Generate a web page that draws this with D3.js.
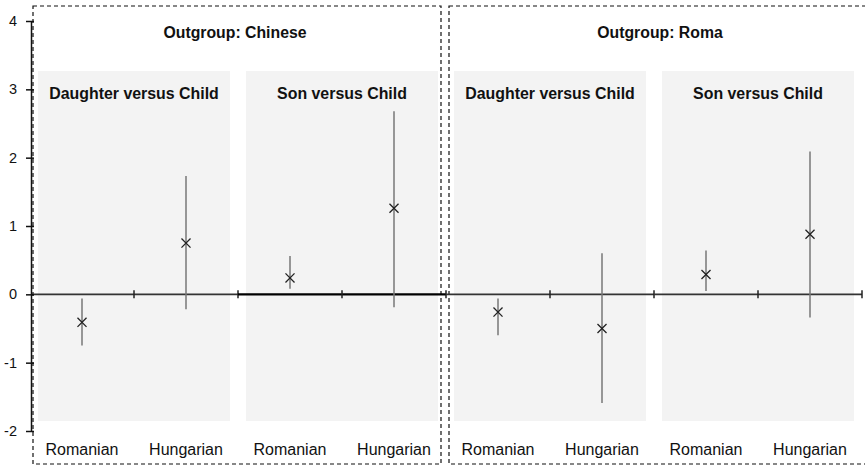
<!DOCTYPE html>
<html>
<head>
<meta charset="utf-8">
<script src="https://cdn.jsdelivr.net/npm/d3@7"></script>
<style>
  body { margin: 0; background: #fff; }
  text { font-family: "Liberation Sans", Arial, Helvetica, sans-serif; fill: #111; }
</style>
</head>
<body>
<div id="chart"></div>
<script>
// data
const outgroups = ["Chinese", "Roma"];
const comparisons = ["Daughter versus Child", "Son versus Child"];
const groups = ["Romanian", "Hungarian"];
// one row per panel (Chinese/Daughter, Chinese/Son, Roma/Daughter, Roma/Son), values per group
const estimates = [[-0.41, 0.75], [0.24, 1.26], [-0.26, -0.50], [0.29, 0.88]];
const lowerCI   = [[-0.75, -0.22], [0.08, -0.19], [-0.60, -1.59], [0.05, -0.34]];
const upperCI   = [[-0.06, 1.73], [0.56, 2.68], [-0.06, 0.60], [0.64, 2.09]];
const yTicks = [-2, -1, 0, 1, 2, 3, 4];

const width = 865, height = 468;
const svg = d3.select("#chart").append("svg")
    .attr("width", width)
    .attr("height", height);

// scales
const panels = d3.range(4);
const x = d3.scaleBand().domain(panels).range([30, 862]);
const xg = d3.scaleBand().domain(groups).range([0, x.bandwidth()]);
const y = d3.scaleLinear().domain([-2, 4]).range([431, 21]);

// grey panel backgrounds
svg.append("g").selectAll("rect")
    .data(panels)
    .join("rect")
    .attr("x", p => x(p) + 8)
    .attr("y", 71)
    .attr("width", x.bandwidth() - 16)
    .attr("height", 350)
    .attr("fill", "#f3f3f3");

// panel titles
svg.append("g").selectAll("text")
    .data(panels)
    .join("text")
    .attr("x", p => x(p) + x.bandwidth() / 2)
    .attr("y", 99)
    .attr("text-anchor", "middle")
    .attr("font-weight", 700)
    .attr("font-size", 15.9)
    .text(p => comparisons[p % 2]);

// dashed outgroup boxes + titles
const boxes = outgroups.map((o, i) => ({
    name: o,
    x0: i === 0 ? 33 : 449,
    x1: i === 0 ? 441 : 867
}));
svg.append("g").selectAll("rect")
    .data(boxes)
    .join("rect")
    .attr("x", d => d.x0)
    .attr("y", 6)
    .attr("width", d => d.x1 - d.x0)
    .attr("height", 458)
    .attr("fill", "none")
    .attr("stroke", "#111")
    .attr("stroke-width", 1.2)
    .attr("stroke-dasharray", "4,3");

svg.append("g").selectAll("text")
    .data(boxes)
    .join("text")
    .attr("x", (d, i) => i === 0 ? 235 : 660)
    .attr("y", 38)
    .attr("text-anchor", "middle")
    .attr("font-weight", 700)
    .attr("font-size", 15.8)
    .text(d => `Outgroup: ${d.name}`);

// zero line per panel with crossing ticks
const base = svg.append("g");
panels.forEach(p => {
    base.append("line")
        .attr("x1", p === 0 ? 31 : x(p))
        .attr("x2", x(p) + x.bandwidth())
        .attr("y1", y(0)).attr("y2", y(0))
        .attr("stroke", p === 1 ? "#000" : "#333")
        .attr("stroke-width", p === 1 ? 2.2 : 1.6);
    [0.5, 1].forEach(f => {
        const tx = x(p) + x.bandwidth() * f;
        base.append("line")
            .attr("x1", tx).attr("x2", tx)
            .attr("y1", y(0) - 4).attr("y2", y(0) + 4)
            .attr("stroke", "#222")
            .attr("stroke-width", 1.5);
    });
});

// y axis
const yAxis = svg.append("g")
    .attr("transform", "translate(31,0)")
    .call(d3.axisLeft(y).tickValues(yTicks).tickSize(5).tickSizeOuter(0).tickPadding(9)
        .tickFormat(d => String(d)));
yAxis.select(".domain").attr("stroke", "#111").attr("stroke-width", 1.5);
yAxis.selectAll(".tick line").attr("stroke", "#111").attr("stroke-width", 1.5)
    .attr("x2", 3).attr("x1", -5);
yAxis.selectAll(".tick text")
    .attr("font-size", 14.5)
    .attr("font-family", "Liberation Sans, Arial, sans-serif")
    .attr("fill", "#111");

// category labels
const cats = panels.flatMap(p => groups.map(g => ({ p, g })));
svg.append("g").selectAll("text")
    .data(cats)
    .join("text")
    .attr("x", d => x(d.p) + xg(d.g) + xg.bandwidth() / 2)
    .attr("y", 455)
    .attr("text-anchor", "middle")
    .attr("font-size", 16)
    .text(d => d.g);

// error bars and point estimates
const pts = panels.flatMap(p => groups.map((g, gi) => ({
    p, g,
    est: estimates[p][gi],
    lo: lowerCI[p][gi],
    hi: upperCI[p][gi]
})));
const cx = d => x(d.p) + xg(d.g) + xg.bandwidth() / 2;

svg.append("g").selectAll("line")
    .data(pts)
    .join("line")
    .attr("x1", cx).attr("x2", cx)
    .attr("y1", d => y(d.hi))
    .attr("y2", d => y(d.lo))
    .attr("stroke", "#777")
    .attr("stroke-width", 1.5);

svg.append("g").selectAll("path")
    .data(pts)
    .join("path")
    .attr("transform", d => `translate(${cx(d)},${y(d.est)})`)
    .attr("d", d3.symbol().type(d3.symbolTimes).size(55))
    .attr("fill", "none")
    .attr("stroke", "#222")
    .attr("stroke-width", 1.3);
</script>
</body>
</html>
